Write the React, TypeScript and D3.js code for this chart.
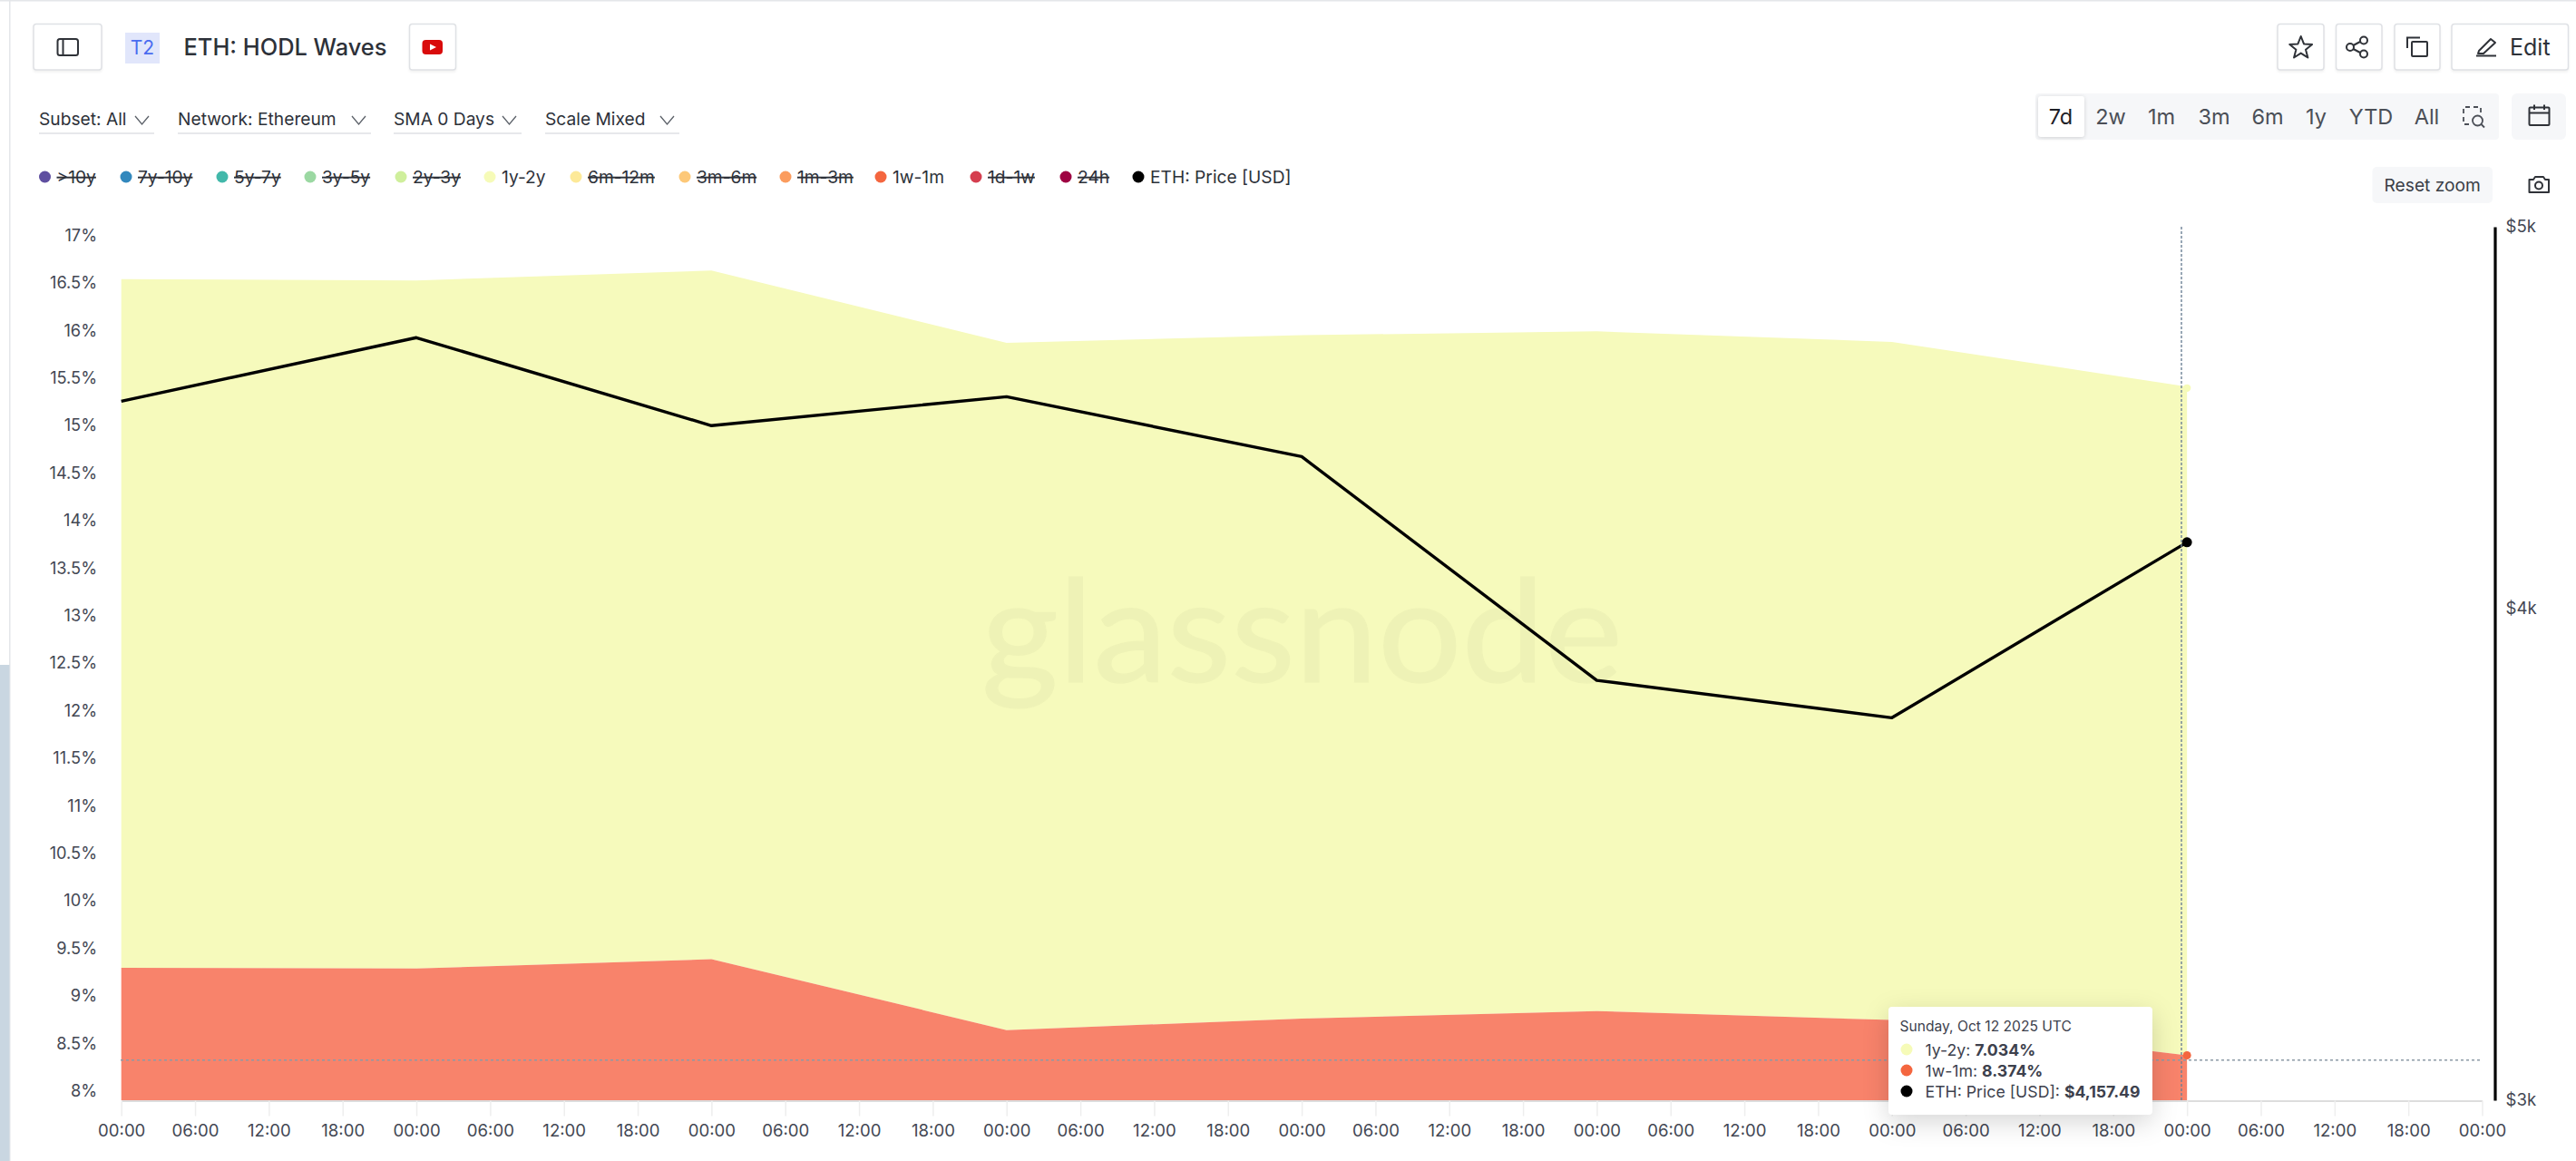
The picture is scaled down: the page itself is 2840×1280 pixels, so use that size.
import { useEffect, useRef } from "react"
import * as d3 from "d3"

const FONT = "Inter, 'Noto Sans', sans-serif"

// daily closes, Oct 5 -> Oct 12 2025
const days = ["2025-10-05", "2025-10-06", "2025-10-07", "2025-10-08", "2025-10-09", "2025-10-10", "2025-10-11", "2025-10-12"]
const share1w1m = [9.295, 9.288, 9.385, 8.64, 8.76, 8.84, 8.745, 8.374]
const share1y2y = [7.245, 7.237, 7.245, 7.23, 7.19, 7.15, 7.135, 7.034]
const ethPrice = [4515, 4686, 4451, 4527, 4371, 3835, 3752, 4157.49]

const yTicks = [8, 8.5, 9, 9.5, 10, 10.5, 11, 11.5, 12, 12.5, 13, 13.5, 14, 14.5, 15, 15.5, 16, 16.5, 17]
const priceTicks = [3000, 4000, 5000]

const legendNames = [">10y", "7y-10y", "5y-7y", "3y-5y", "2y-3y", "1y-2y", "6m-12m", "3m-6m", "1m-3m", "1w-1m", "1d-1w", "24h", "ETH: Price [USD]"]
const legendColors = ["#5f4fa0", "#3288bd", "#42b8aa", "#9bd8a2", "#cfef9c", "#f6fbb8", "#fde998", "#fdc878", "#fb9c5e", "#f4663f", "#d53e4f", "#9e0142", "#000000"]
const legendActive = ["1y-2y", "1w-1m", "ETH: Price [USD]"]
const legendDotX = [49.5, 139, 245, 342, 442, 540, 635, 755, 866, 971, 1076, 1175, 1255]

const filterLabels = ["Subset: All", "Network: Ethereum", "SMA 0 Days", "Scale Mixed"]
const filterX = [43, 196, 434, 601]
const filterEnd = [170, 409, 575, 749]
const rangeLabels = ["7d", "2w", "1m", "3m", "6m", "1y", "YTD", "All"]
const rangeX = [2272, 2327, 2383, 2441, 2500, 2553.5, 2614, 2675.5]

export default function App() {
  const ref = useRef<SVGSVGElement>(null)

  useEffect(() => {
    const svg = d3.select(ref.current)
    svg.selectAll("*").remove()

    const parsed = days.map((d) => new Date(d + "T00:00:00Z"))
    const start = parsed[0]
    const end = d3.utcDay.offset(parsed[parsed.length - 1], 1)

    const x = d3.scaleUtc().domain([start, end]).range([133.7, 2736.5])
    const y = d3.scaleLinear().domain([8, 17]).range([1202.7, 259.5])
    const yPrice = d3.scaleLog().domain([3000, 5000]).range([1213, 250])

    const plotTop = 250
    const plotBottom = 1213

    svg.append("defs").append("clipPath").attr("id", "plot-clip")
      .append("rect")
      .attr("x", 133).attr("y", plotTop)
      .attr("width", 2604).attr("height", plotBottom - plotTop)

    // page frame
    svg.append("rect").attr("width", 2840).attr("height", 1280).attr("fill", "#ffffff")
    svg.append("rect").attr("x", 0).attr("y", 0).attr("width", 2840).attr("height", 1.5).attr("fill", "#e4e6e9")
    svg.append("rect").attr("x", 10).attr("y", 0).attr("width", 1.5).attr("height", 1280).attr("fill", "#e4e6e9")
    svg.append("rect").attr("x", 0).attr("y", 733).attr("width", 10.5).attr("height", 547).attr("fill", "#c9d6e1")

    const text = (sel: any, str: string, px: number, py: number, size: number, fill = "#2d3139", anchor = "start", weight = 400) =>
      sel.append("text")
        .attr("x", px).attr("y", py)
        .attr("font-family", FONT).attr("font-size", size)
        .attr("font-weight", weight)
        .attr("fill", fill).attr("text-anchor", anchor)
        .text(str)

    // Header buttons
    const button = (x0: number, x1: number) =>
      svg.append("rect")
        .attr("x", x0).attr("y", 26.5)
        .attr("width", x1 - x0).attr("height", 50.5)
        .attr("rx", 3)
        .attr("fill", "#ffffff")
        .attr("stroke", "#dfe1e5").attr("stroke-width", 1.5)
        .style("filter", "drop-shadow(0 2px 1px rgba(0,0,0,0.05))")

    button(37, 112)
    button(451.5, 502.5)
    button(2511, 2562)
    button(2575.5, 2626)
    button(2640, 2690)
    button(2703, 2831.5)

    svg.append("rect").attr("x", 138).attr("y", 36).attr("width", 38).attr("height", 34).attr("fill", "#e1e6fb")
    text(svg, "T2", 157, 60, 21, "#4a6cf0", "middle")
    text(svg, "ETH: HODL Waves", 202.5, 61, 25.4, "#2d3139", "start", 500)

    svg.append("rect").attr("x", 465.5).attr("y", 44).attr("width", 22.5).attr("height", 16).attr("rx", 4).attr("fill", "#d90b0b")
    svg.append("path").attr("d", "M474,48.5 L481,52 L474,55.5 Z").attr("fill", "#ffffff")

    // Filters
    filterLabels.forEach((label, i) => {
      text(svg, label, filterX[i], 138, 19.2, "#2d3139")
      svg.append("line")
        .attr("x1", filterX[i]).attr("x2", filterEnd[i])
        .attr("y1", 147).attr("y2", 147)
        .attr("stroke", "#dfe1e5").attr("stroke-width", 1.5)
      const cx = filterEnd[i] - 13.5
      svg.append("path")
        .attr("d", `M${cx - 7.5},128 L${cx},137 L${cx + 7.5},128`)
        .attr("fill", "none").attr("stroke", "#5b6068").attr("stroke-width", 1.3)
    })

    // Range selector
    svg.append("rect").attr("x", 2244).attr("y", 103).attr("width", 511).attr("height", 51).attr("rx", 4).attr("fill", "#f6f7f9")
    svg.append("rect").attr("x", 2247).attr("y", 106).attr("width", 51).attr("height", 45).attr("rx", 3).attr("fill", "#ffffff")
      .style("filter", "drop-shadow(0 1px 2px rgba(0,0,0,0.15))")
    rangeLabels.forEach((label, i) => {
      text(svg, label, rangeX[i], 136.5, 23.5, i === 0 ? "#1d2026" : "#4b4f57", "middle")
    })
    svg.append("rect").attr("x", 2769).attr("y", 103).attr("width", 60).attr("height", 51).attr("rx", 6).attr("fill", "#f6f7f9")

    // Reset zoom
    svg.append("rect").attr("x", 2615.5).attr("y", 184).attr("width", 132.5).attr("height", 40).attr("rx", 5).attr("fill", "#f6f7f9")
    text(svg, "Reset zoom", 2681.7, 211, 19.2, "#3a3e46", "middle")

    // Icons, on top of their buttons
    const icon = svg.append("g").attr("fill", "none").attr("stroke", "#2f3238").attr("stroke-width", 2)

    icon.append("rect").attr("x", 63.5).attr("y", 43).attr("width", 22.5).attr("height", 18).attr("rx", 2.5)
    icon.append("line").attr("x1", 69.5).attr("x2", 69.5).attr("y1", 43).attr("y2", 61)

    // star
    const starPoints = d3.range(10).map((i) => {
      const r = i % 2 === 0 ? 13 : 5.6
      const a = (i * Math.PI) / 5
      return [2536.7 + r * Math.sin(a), 53 - r * Math.cos(a)] as [number, number]
    })
    icon.append("path").attr("d", d3.line()(starPoints) + "Z").attr("stroke-linejoin", "round")

    // share
    icon.append("path").attr("d", "M2594.5,50 L2602,46 M2594.5,54 L2602,58")
    icon.append("circle").attr("cx", 2591).attr("cy", 52).attr("r", 4)
    icon.append("circle").attr("cx", 2606).attr("cy", 44.5).attr("r", 4)
    icon.append("circle").attr("cx", 2606).attr("cy", 59.5).attr("r", 4)

    // copy
    icon.append("rect").attr("x", 2659).attr("y", 46).attr("width", 17).attr("height", 16).attr("rx", 1)
    icon.append("path").attr("d", "M2654,53 V41.5 H2668")

    // edit
    icon.append("path").attr("d", "M2733,56 L2746,43 L2751,47 L2738,59 L2732,59 Z").attr("stroke-linejoin", "round")
    icon.append("line").attr("x1", 2730).attr("x2", 2752).attr("y1", 61.5).attr("y2", 61.5)
    text(svg, "Edit", 2767, 61, 25, "#2d3139")

    // calendar
    icon.append("rect").attr("x", 2788.5).attr("y", 118.5).attr("width", 22).attr("height", 19.5).attr("rx", 1)
    icon.append("path").attr("d", "M2788.5,124.5 H2810.5 M2794,115.5 V121 M2805,115.5 V121")

    // camera
    icon.append("path").attr("d", "M2788.5,198 H2793 L2795,195 H2804 L2806,198 H2810 V212 H2788.5 Z").attr("stroke-linejoin", "round")
    icon.append("circle").attr("cx", 2799).attr("cy", 204.5).attr("r", 4)

    const zoomIcon = svg.append("g").attr("fill", "none").attr("stroke", "#4b4f57").attr("stroke-width", 1.8)
    zoomIcon.append("path").attr("d", "M2722,137 H2716 V118 H2735 V124").attr("stroke-dasharray", "5 4")
    zoomIcon.append("circle").attr("cx", 2731.5).attr("cy", 133).attr("r", 5.5)
    zoomIcon.append("line").attr("x1", 2735.5).attr("y1", 137).attr("x2", 2739).attr("y2", 140.5)

    // Legend
    legendNames.forEach((name, i) => {
      const cx = legendDotX[i]
      svg.append("circle").attr("cx", cx).attr("cy", 195).attr("r", 6.5).attr("fill", legendColors[i])
      text(svg, name, cx + 13, 202, 19.2, "#2d3139")
        .style("text-decoration", legendActive.includes(name) ? "none" : "line-through")
    })

    // Stacked share areas
    const rows = parsed.map((d, i) => ({ date: d, low: share1w1m[i], mid: share1y2y[i] }))
    const stack = d3.stack<any>().keys(["low", "mid"])(rows)
    const area = d3.area<any>()
      .x((d) => x(d.data.date))
      .y0((d) => y(d[0]))
      .y1((d) => y(d[1]))

    const plot = svg.append("g").attr("clip-path", "url(#plot-clip)")
    plot.append("path").attr("d", area(stack[1] as any)).attr("fill", "#f6fabc")
    plot.append("path").attr("d", area(stack[0] as any)).attr("fill", "#f8836b")

    // Watermark
    svg.append("text")
      .attr("x", 1082).attr("y", 752)
      .attr("font-family", "Lato, sans-serif").attr("font-size", 158)
      .attr("textLength", 707).attr("lengthAdjust", "spacingAndGlyphs")
      .attr("fill", "#000000").attr("stroke", "#000000").attr("stroke-width", 1.5)
      .attr("opacity", 0.028)
      .text("glassnode")

    // Price line
    const priceLine = d3.line<number>()
      .x((_, i) => x(parsed[i]))
      .y((d) => yPrice(d))
    svg.append("path")
      .attr("d", priceLine(ethPrice))
      .attr("fill", "none").attr("stroke", "#000000").attr("stroke-width", 3.4)
      .attr("stroke-linejoin", "round")

    // Axes
    const style = (g: any, size: number) => {
      g.selectAll("text").attr("font-family", FONT).attr("font-size", size).attr("fill", "#434753")
    }

    const xTicks = d3.utcHour.every(6)!.range(start, d3.utcHour.offset(end, 1))
    const xAxis = svg.append("g")
      .attr("transform", `translate(0,${plotBottom + 0.5})`)
      .call(
        d3.axisBottom(x)
          .tickValues(xTicks)
          .tickFormat((d) => d3.utcFormat("%H:%M")(d as Date))
          .tickSize(17)
          .tickSizeOuter(0)
          .tickPadding(9)
      )
    xAxis.select(".domain").attr("stroke", "#dddddd").attr("stroke-width", 2)
    xAxis.selectAll(".tick line").attr("stroke", "#eeeeee").attr("stroke-width", 1.5)
    style(xAxis, 18.6)

    const yAxis = svg.append("g")
      .attr("transform", "translate(133,0)")
      .call(
        d3.axisLeft(y)
          .tickValues(yTicks)
          .tickFormat((d) => `${d}%`)
          .tickSize(0)
          .tickPadding(26)
      )
    yAxis.select(".domain").remove()
    style(yAxis, 18.2)

    const rightAxis = svg.append("g")
      .attr("transform", "translate(2750.5,0)")
      .call(
        d3.axisRight(yPrice)
          .tickValues(priceTicks)
          .tickFormat((d) => `$${+d / 1000}k`)
          .tickSize(0)
          .tickPadding(12)
      )
    rightAxis.select(".domain").attr("stroke", "#000000").attr("stroke-width", 3.2)
    style(rightAxis, 18.6)

    // Hover crosshair
    const last = parsed.length - 1
    svg.append("line")
      .attr("x1", 2405).attr("x2", 2405)
      .attr("y1", plotTop).attr("y2", plotBottom)
      .attr("stroke", "#6d8296").attr("stroke-width", 1.4).attr("stroke-dasharray", "3 2")
    svg.append("line")
      .attr("x1", 133).attr("x2", 2736)
      .attr("y1", 1168.7).attr("y2", 1168.7)
      .attr("stroke", "#8c9aa6").attr("stroke-width", 1.6).attr("stroke-dasharray", "3 3")

    svg.append("circle")
      .attr("cx", x(parsed[last])).attr("cy", y(share1w1m[last]))
      .attr("r", 4.5).attr("fill", "#f4663f")
    svg.append("circle")
      .attr("cx", x(parsed[last])).attr("cy", y(share1w1m[last] + share1y2y[last]) + 1.5)
      .attr("r", 4.2).attr("fill", "#f6fbb8")
    svg.append("circle")
      .attr("cx", x(parsed[last])).attr("cy", yPrice(ethPrice[last]))
      .attr("r", 5.5).attr("fill", "#000000")

    // Tooltip
    const tip = svg.append("g")
    tip.append("rect")
      .attr("x", 2082).attr("y", 1110)
      .attr("width", 291).attr("height", 119)
      .attr("rx", 4).attr("fill", "#ffffff")
      .style("filter", "drop-shadow(0 8px 14px rgba(0,0,0,0.16))")
    text(tip, "Sunday, Oct 12 2025 UTC", 2094.5, 1137, 15.6, "#3d414d")

    const tipRows: [string, string, string][] = [
      ["1y-2y: ", `${d3.format(".3f")(share1y2y[last])}%`, legendColors[5]],
      ["1w-1m: ", `${d3.format(".3f")(share1w1m[last])}%`, legendColors[9]],
      ["ETH: Price [USD]: ", d3.format("$,.2f")(ethPrice[last]), "#000000"],
    ]
    tipRows.forEach(([label, value, color], i) => {
      const cy = 1157 + i * 23
      tip.append("circle").attr("cx", 2102).attr("cy", cy).attr("r", 6.5).attr("fill", color)
      const t = text(tip, label, 2122.5, cy + 6.5, 17.7, "#3d414d")
      t.append("tspan").attr("font-weight", 700).text(value)
    })
  }, [])

  return (
    <svg
      ref={ref}
      width={2840}
      height={1280}
      viewBox="0 0 2840 1280"
      style={{ position: "absolute", left: 0, top: 0, display: "block" }}
    />
  )
}
